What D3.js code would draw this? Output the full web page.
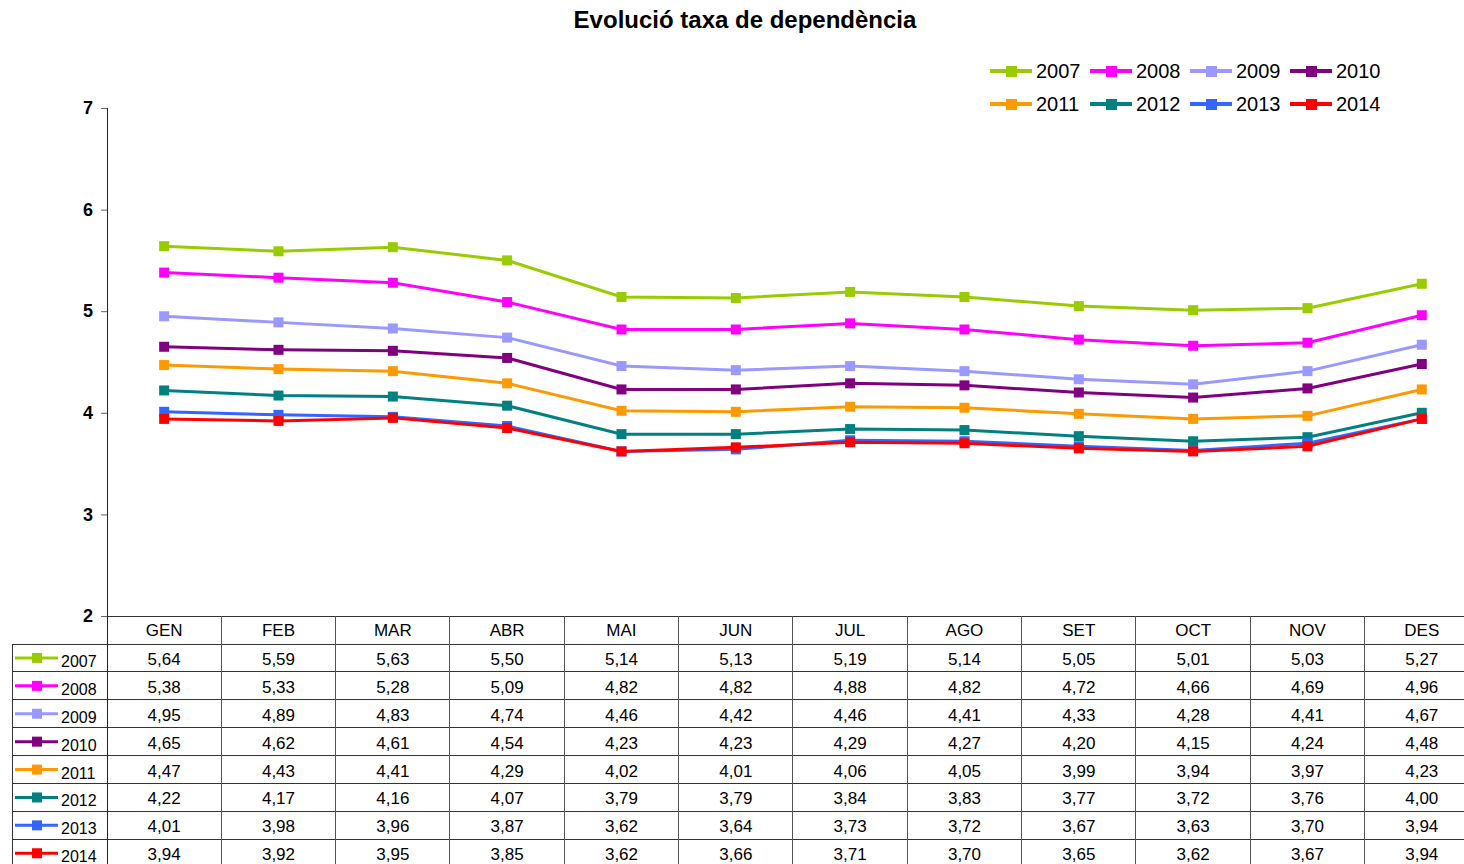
<!DOCTYPE html>
<html>
<head>
<meta charset="utf-8">
<script src="https://cdn.jsdelivr.net/npm/d3@7"></script>
<style>
  body { margin: 0; background: #fff; }
  svg { display: block; font-family: "Liberation Sans", Arial, sans-serif; }
</style>
</head>
<body>
<svg id="chart" width="1464" height="864"></svg>
<script>
// months (table header)
var months = ["GEN", "FEB", "MAR", "ABR", "MAI", "JUN", "JUL", "AGO", "SET", "OCT", "NOV", "DES"];
var years = ["2007", "2008", "2009", "2010", "2011", "2012", "2013", "2014"];
var colors = ["#99cc00", "#ff00ff", "#9999ff", "#800080", "#ff9900", "#008080", "#3366ff", "#ff0000"];

var v2007 = [5.64, 5.59, 5.63, 5.50, 5.14, 5.13, 5.19, 5.14, 5.05, 5.01, 5.03, 5.27];
var v2008 = [5.38, 5.33, 5.28, 5.09, 4.82, 4.82, 4.88, 4.82, 4.72, 4.66, 4.69, 4.96];
var v2009 = [4.95, 4.89, 4.83, 4.74, 4.46, 4.42, 4.46, 4.41, 4.33, 4.28, 4.41, 4.67];
var v2010 = [4.65, 4.62, 4.61, 4.54, 4.23, 4.23, 4.29, 4.27, 4.20, 4.15, 4.24, 4.48];
var v2011 = [4.47, 4.43, 4.41, 4.29, 4.02, 4.01, 4.06, 4.05, 3.99, 3.94, 3.97, 4.23];
var v2012 = [4.22, 4.17, 4.16, 4.07, 3.79, 3.79, 3.84, 3.83, 3.77, 3.72, 3.76, 4.00];
var v2013 = [4.01, 3.98, 3.96, 3.87, 3.62, 3.64, 3.73, 3.72, 3.67, 3.63, 3.70, 3.94];
var v2014 = [3.94, 3.92, 3.95, 3.85, 3.62, 3.66, 3.71, 3.70, 3.65, 3.62, 3.67, 3.94];

var yTicks = [2, 3, 4, 5, 6, 7];

var series = years.map(function(y, i) {
    return { year: y, color: colors[i], values: [v2007, v2008, v2009, v2010, v2011, v2012, v2013, v2014][i] };
});

var svg = d3.select("#chart");
var plotLeft = 107, colW = 114.33, plotTop = 108, plotBottom = 616;
var rowH = 27.9, headerH = 28;

var x = d3.scaleBand().domain(months).range([plotLeft, plotLeft + colW * 12]).padding(0);
var y = d3.scaleLinear().domain([2, 7]).range([plotBottom, plotTop]);

var fmt = function(v) { return d3.format(".2f")(v).replace(".", ","); };

// title
svg.append("text")
    .attr("x", 745).attr("y", 28)
    .attr("text-anchor", "middle")
    .style("font-size", "24px").style("font-weight", "bold")
    .text("Evolució taxa de dependència");

// y axis
var yAxis = d3.axisLeft(y).tickValues(yTicks).tickFormat(d3.format("d"))
    .tickSize(6).tickSizeOuter(6).tickPadding(8);
var gy = svg.append("g").attr("transform", "translate(" + plotLeft + ",0)").call(yAxis);
gy.select(".domain").attr("stroke", "#222");
gy.selectAll("line").attr("stroke", "#666");
gy.selectAll("text")
    .style("font-size", "18px").style("font-weight", "bold")
    .attr("fill", "#000");

// table grid
var tableBottom = plotBottom + headerH + rowH * years.length;
var grid = svg.append("g").attr("stroke", "#333").attr("stroke-width", 1).attr("shape-rendering", "crispEdges");
grid.append("line").attr("x1", plotLeft).attr("x2", 1464).attr("y1", plotBottom).attr("y2", plotBottom);
d3.range(years.length + 1).forEach(function(i) {
    var yy = plotBottom + headerH + i * rowH;
    grid.append("line").attr("x1", 12).attr("x2", 1464).attr("y1", yy).attr("y2", yy);
});
months.forEach(function(m) {
    grid.append("line")
        .attr("x1", x(m)).attr("x2", x(m))
        .attr("y1", m === "GEN" ? plotTop : plotBottom).attr("y2", tableBottom)
        .attr("stroke", m === "GEN" ? "#222" : "#555");
});
grid.append("line").attr("x1", 12).attr("x2", 12).attr("y1", plotBottom + headerH).attr("y2", tableBottom);

// header labels
svg.append("g").selectAll("text")
    .data(months).enter().append("text")
    .attr("x", function(d) { return x(d) + x.bandwidth() / 2; })
    .attr("y", plotBottom + headerH / 2 + 6)
    .attr("text-anchor", "middle")
    .style("font-size", "17px")
    .text(function(d) { return d; });

// table rows
var rows = svg.append("g").selectAll("g")
    .data(series).enter().append("g")
    .attr("transform", function(d, i) { return "translate(0," + (plotBottom + headerH + i * rowH) + ")"; });

rows.append("line")
    .attr("x1", 15).attr("x2", 58).attr("y1", rowH / 2).attr("y2", rowH / 2)
    .attr("stroke", function(d) { return d.color; }).attr("stroke-width", 3);
rows.append("rect")
    .attr("x", 32).attr("y", rowH / 2 - 5).attr("width", 10).attr("height", 10)
    .attr("fill", function(d) { return d.color; });
rows.append("text")
    .attr("x", 61).attr("y", rowH / 2 + 9)
    .style("font-size", "16px")
    .text(function(d) { return d.year; });

rows.selectAll("text.val")
    .data(function(d) { return d.values; })
    .enter().append("text")
    .attr("class", "val")
    .attr("x", function(d, i) { return x(months[i]) + x.bandwidth() / 2; })
    .attr("y", rowH / 2 + 7)
    .attr("text-anchor", "middle")
    .style("font-size", "17px")
    .text(fmt);

// lines + markers
var line = d3.line()
    .x(function(d, i) { return x(months[i]) + x.bandwidth() / 2; })
    .y(function(d) { return y(d); });

var sg = svg.append("g").selectAll("g")
    .data(series).enter().append("g");

sg.append("path")
    .attr("d", function(d) { return line(d.values); })
    .attr("fill", "none")
    .attr("stroke", function(d) { return d.color; })
    .attr("stroke-width", 3);

sg.selectAll("rect")
    .data(function(d) { return d.values.map(function(v) { return { v: v, c: d.color }; }); })
    .enter().append("rect")
    .attr("x", function(d, i) { return x(months[i]) + x.bandwidth() / 2 - 5; })
    .attr("y", function(d) { return y(d.v) - 5; })
    .attr("width", 10).attr("height", 10)
    .attr("fill", function(d) { return d.c; });

// legend
var leg = svg.append("g").selectAll("g")
    .data(series).enter().append("g")
    .attr("transform", function(d, i) {
        return "translate(" + (990 + (i % 4) * 100) + "," + (71 + Math.floor(i / 4) * 33) + ")";
    });
leg.append("line")
    .attr("x1", 0).attr("x2", 42)
    .attr("stroke", function(d) { return d.color; }).attr("stroke-width", 4);
leg.append("rect")
    .attr("x", 16).attr("y", -5).attr("width", 11).attr("height", 11)
    .attr("fill", function(d) { return d.color; });
leg.append("text")
    .attr("x", 46).attr("y", 7)
    .style("font-size", "20px")
    .text(function(d) { return d.year; });
</script>
</body>
</html>
